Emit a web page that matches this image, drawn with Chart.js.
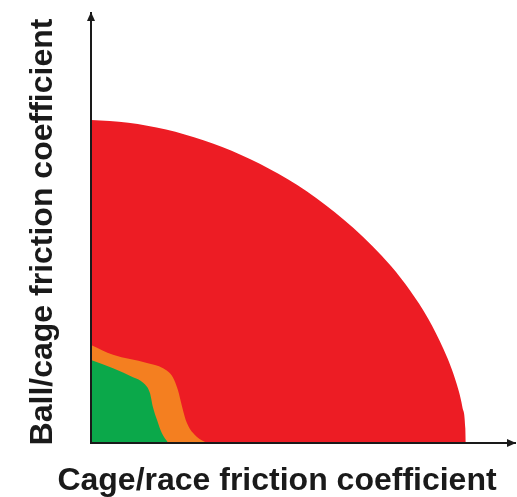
<!DOCTYPE html>
<html>
<head>
<meta charset="utf-8">
<script src="https://cdn.jsdelivr.net/npm/chart.js@4.4.1/dist/chart.umd.min.js"></script>
<style>
  body { margin: 0; background: #fff; }
  #box { width: 517px; height: 497px; }
</style>
</head>
<body>
<div id="box"><canvas id="graficoAtrito" width="517" height="497"></canvas></div>
<script>
// limites (cage/race no x, ball/cage no y), escala 0-100 sem unidade
const tituloX = 'Cage/race friction coefficient'
const tituloY = 'Ball/cage friction coefficient'

const vermelhoX = [0, 8.8, 17.7, 26.5, 35.4, 44.2, 53.1, 61.9, 70.8, 75.2, 79.6, 83.1, 85.8, 87.6, 88.3, 88.4]
const vermelhoY = [75.1, 74.5, 72.9, 70.4, 67.0, 62.6, 57.0, 50.0, 41.1, 35.5, 28.8, 21.9, 15.1, 8.3, 3.4, 0]

const laranjaX = [0, 5.2, 13.2, 17.0, 19.3, 20.5, 21.5, 22.6, 25.0, 27.4]
const laranjaY = [22.8, 20.5, 18.6, 17.4, 15.3, 12.3, 8.4, 4.7, 1.4, 0]

const verdeX = [0, 5.2, 9.9, 12.3, 13.9, 14.6, 15.6, 16.7, 18.2]
const verdeY = [19.3, 17.4, 15.3, 14.0, 11.6, 8.4, 5.3, 2.3, 0]

function juntarPontos(xs, ys) {
    return xs.map((x, i) => ({ x: x, y: ys[i] }))
}

function regiao(xs, ys, cor, ordem) {
    return {
        data: juntarPontos(xs, ys),
        backgroundColor: cor,
        borderColor: cor,
        borderWidth: 0,
        pointRadius: 0,
        fill: 'origin',
        tension: 0.4,
        cubicInterpolationMode: 'monotone',
        order: ordem
    }
}

// setas nas pontas dos eixos + titulos dos eixos
const eixosComSeta = {
    id: 'eixosComSeta',
    afterDraw(chart) {
        const ctx = chart.ctx
        const area = chart.chartArea
        ctx.save()
        ctx.fillStyle = '#1a1a1a'

        ctx.beginPath()
        ctx.moveTo(area.left, area.top - 1)
        ctx.lineTo(area.left - 4, area.top + 8)
        ctx.lineTo(area.left + 4, area.top + 8)
        ctx.closePath()
        ctx.fill()

        ctx.beginPath()
        ctx.moveTo(area.right + 1, area.bottom)
        ctx.lineTo(area.right - 8, area.bottom - 4)
        ctx.lineTo(area.right - 8, area.bottom + 4)
        ctx.closePath()
        ctx.fill()

        ctx.font = 'bold 32px "Liberation Sans", Arial, sans-serif'
        ctx.textAlign = 'center'
        ctx.textBaseline = 'alphabetic'
        ctx.fillText(tituloX, 277, 490)

        ctx.translate(52, 232)
        ctx.rotate(-Math.PI / 2)
        ctx.fillText(tituloY, 0, 0)
        ctx.restore()
    }
}

document.addEventListener('DOMContentLoaded', () => {
    const ctxAtrito = document.getElementById('graficoAtrito')

    new Chart(ctxAtrito, {
        type: 'line',
        data: {
            datasets: [
                regiao(vermelhoX, vermelhoY, '#ED1C24', 3),
                regiao(laranjaX, laranjaY, '#F47F20', 2),
                regiao(verdeX, verdeY, '#0BA84A', 1)
            ]
        },
        options: {
            responsive: false,
            animation: false,
            layout: {
                padding: { left: 91, top: 13, right: 2, bottom: 54 }
            },
            plugins: {
                legend: { display: false },
                tooltip: { enabled: false }
            },
            scales: {
                x: {
                    type: 'linear',
                    min: 0,
                    max: 100,
                    ticks: { display: false },
                    grid: { display: false, drawTicks: false },
                    border: { display: true, color: '#1a1a1a', width: 2, z: 1 }
                },
                y: {
                    type: 'linear',
                    min: 0,
                    max: 100,
                    ticks: { display: false },
                    grid: { display: false, drawTicks: false },
                    border: { display: true, color: '#1a1a1a', width: 2, z: 1 }
                }
            }
        },
        plugins: [eixosComSeta]
    })
})
</script>
</body>
</html>
